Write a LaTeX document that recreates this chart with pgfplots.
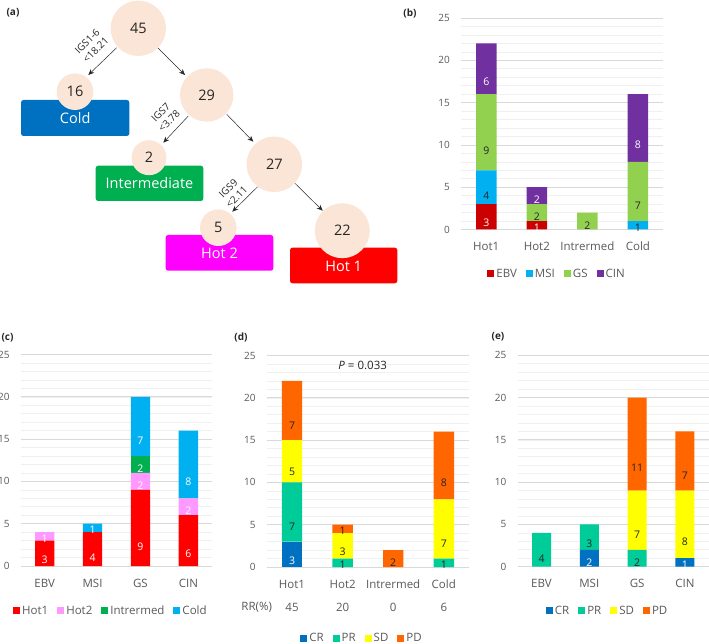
\documentclass[border=0pt]{standalone}
\usepackage{fontspec}
\setmainfont{Open Sans}
\usepackage{pgfplots}
\pgfplotsset{compat=1.18}
\usetikzlibrary{arrows.meta}

\definecolor{txt}{HTML}{595959}
\definecolor{dark}{HTML}{262626}
\definecolor{peach}{HTML}{FBE5D6}
\definecolor{coldbox}{HTML}{0070C0}
\definecolor{interbox}{HTML}{00B050}
\definecolor{hottwobox}{HTML}{FF00FF}
\definecolor{hotonebox}{HTML}{FF0000}
\definecolor{ebv}{HTML}{CC0000}
\definecolor{msi}{HTML}{00B0F0}
\definecolor{gs}{HTML}{92D050}
\definecolor{cin}{HTML}{7030A0}
\definecolor{hotone}{HTML}{FF0000}
\definecolor{hottwo}{HTML}{FF99FF}
\definecolor{inter}{HTML}{00B050}
\definecolor{cold}{HTML}{00B0F0}
\definecolor{cr}{HTML}{0070C0}
\definecolor{pr}{HTML}{00CC99}
\definecolor{sd}{HTML}{FFFF00}
\definecolor{pd}{HTML}{FF6600}

\tikzset{lbl/.style={font=\fontsize{11.5}{13}\selectfont, text=txt}}

\pgfplotsset{
  stackbar/.style={
    ybar stacked,
    clip=false,
    y=8.46pt,
    ymin=0, ymax=25,
    xmin=-0.5, xmax=3.5,
    ytick={0,5,...,25},
    minor ytick={1,...,24},
    xtick={0,1,2,3},
    ymajorgrids, yminorgrids,
    major grid style={draw=black!15, line width=0.7pt},
    minor grid style={draw=black!6, line width=0.6pt},
    axis line style={draw=none},
    tick style={draw=none},
    major tick length=0pt,
    minor tick length=0pt,
    /pgf/number format/assume math mode=true,
    ticklabel style={font=\fontsize{10}{12}\selectfont, text=txt},
    yticklabel style={anchor=east, inner sep=0pt, xshift=-11pt},
    xticklabel style={anchor=base, inner sep=0pt, yshift=-21pt,
      font=\fontsize{11.5}{13}\selectfont},
    visualization depends on={value \thisrow{v} \as \segval},
    nodes near coords={\ifdim\segval pt>0pt \segval\fi},
    every node near coord/.append style={anchor=center, text=dark,
      font=\fontsize{10.5}{12}\selectfont, inner sep=0pt,
      yshift={-0.25*\segval*8.46pt}},
    legend image code/.code={\fill[##1] (0pt,-3.5pt) rectangle (7pt,3.5pt);},
    legend style={anchor=center, draw=none, fill=none, legend columns=4,
      font=\fontsize{11.5}{13}\selectfont, text=txt,
      /tikz/every even column/.append style={column sep=7pt}},
  },
}

\begin{document}
\begin{tikzpicture}
\useasboundingbox (0pt,0pt) rectangle (709pt,643pt);

% (a) decision tree
\begin{scope}[x=1pt, y=-1pt, shift={(0pt,643pt)}]
  \draw[dark, line width=0.5pt, -{Stealth[length=6pt,width=5pt]}] (116.7,47.7) -- (88.3,75);
  \draw[dark, line width=0.5pt, -{Stealth[length=6pt,width=5pt]}] (156.7,46.7) -- (185,75);
  \draw[dark, line width=0.5pt, -{Stealth[length=6pt,width=5pt]}] (188.3,116) -- (163.3,142.7);
  \draw[dark, line width=0.5pt, -{Stealth[length=6pt,width=5pt]}] (226.7,114.3) -- (253.3,141.7);
  \draw[dark, line width=0.5pt, -{Stealth[length=6pt,width=5pt]}] (257.7,186.7) -- (232.3,211.7);
  \draw[dark, line width=0.5pt, -{Stealth[length=6pt,width=5pt]}] (294.3,182.7) -- (322.7,210.7);

  \fill[coldbox, rounded corners=2.5pt] (21,100) rectangle (129.3,136);
  \fill[interbox, rounded corners=2.5pt] (95.7,165.7) rectangle (203.3,201);
  \fill[hottwobox, rounded corners=2.5pt] (165.7,235) rectangle (273.3,270.7);
  \fill[hotonebox, rounded corners=2.5pt] (290,247.7) rectangle (397.3,283.3);

  \fill[peach] (138.3,28.3) circle (27.7pt);
  \fill[peach] (75,91.7) circle (18.3pt);
  \fill[peach] (206.7,95) circle (26.7pt);
  \fill[peach] (149,157.7) circle (17.5pt);
  \fill[peach] (274.3,164.3) circle (27.8pt);
  \fill[peach] (218.3,227.7) circle (18.3pt);
  \fill[peach] (342.3,230.7) circle (27.5pt);

  \begin{scope}[every node/.style={font=\fontsize{14.5}{16}\selectfont, text=dark}]
    \node at (138.3,28.3) {45};
    \node at (75,91.7) {16};
    \node at (206.7,95) {29};
    \node at (149,157.7) {2};
    \node at (274.3,164.3) {27};
    \node at (218.3,227.7) {5};
    \node at (342.3,230.7) {22};
  \end{scope}
  \begin{scope}[every node/.style={font=\fontsize{14.5}{16}\selectfont, text=white}]
    \node at (75.2,118.3) {Cold};
    \node at (149.5,183.3) {Intermediate};
    \node at (219.5,253) {Hot 2};
    \node at (343.7,266.5) {Hot 1};
  \end{scope}
  \begin{scope}[every node/.style={font=\fontsize{10}{12}\selectfont, text=dark,
      align=center, rotate=45, inner sep=0pt}]
    \node at (91.5,45.5) {IGS1-6\\<18.21};
    \node at (165,117) {IGS7\\<3.78};
    \node at (232.5,193) {IGS9\\<2.11};
  \end{scope}
\end{scope}

% panel letters
\begin{scope}[every node/.style={font=\bfseries\fontsize{10}{12}\selectfont, text=dark}]
  \node at (13pt,630pt) {(a)};
  \node at (410pt,630pt) {(b)};
  \node at (7.5pt,305.5pt) {(c)};
  \node at (241pt,306pt) {(d)};
  \node at (498pt,306pt) {(e)};
\end{scope}

% (b)
\begin{axis}[stackbar, x=50.55pt, bar width=20.5pt,
    at={(461pt,413.5pt)}, anchor=south west,
    xticklabels={Hot1,Hot2,Intrermed,Cold},
    legend style={at={(0.475,-0.21)}}]
  \addplot[fill=ebv, draw=none, every node near coord/.append style={text=white}]
    table[x=x, y=v] {x v
0 3
1 1
2 0
3 0
};
  \addplot[fill=msi, draw=none] table[x=x, y=v] {x v
0 4
1 0
2 0
3 1
};
  \addplot[fill=gs, draw=none] table[x=x, y=v] {x v
0 9
1 2
2 2
3 7
};
  \addplot[fill=cin, draw=none, every node near coord/.append style={text=white}]
    table[x=x, y=v] {x v
0 6
1 2
2 0
3 8
};
  \legend{EBV,MSI,GS,CIN}
\end{axis}

% (c)
\begin{axis}[stackbar, x=47.9pt, bar width=19.3pt,
    at={(20.7pt,77pt)}, anchor=south west,
    xticklabels={EBV,MSI,GS,CIN},
    every node near coord/.append style={text=white},
    legend style={at={(0.471,-0.212)}}]
  \addplot[fill=hotone, draw=none] table[x=x, y=v] {x v
0 3
1 4
2 9
3 6
};
  \addplot[fill=hottwo, draw=none] table[x=x, y=v] {x v
0 1
1 0
2 2
3 2
};
  \addplot[fill=inter, draw=none] table[x=x, y=v] {x v
0 0
1 0
2 2
3 0
};
  \addplot[fill=cold, draw=none] table[x=x, y=v] {x v
0 0
1 1
2 7
3 8
};
  \legend{Hot1,Hot2,Intrermed,Cold}
\end{axis}

% (d)
\begin{axis}[stackbar, x=50.6pt, bar width=20.4pt,
    at={(266.7pt,76pt)}, anchor=south west,
    xticklabels={Hot1,Hot2,Intrermed,Cold},
    legend style={at={(0.471,-0.336)}}]
  \addplot[fill=cr, draw=none, every node near coord/.append style={text=white}]
    table[x=x, y=v] {x v
0 3
1 0
2 0
3 0
};
  \addplot[fill=pr, draw=none] table[x=x, y=v] {x v
0 7
1 1
2 0
3 1
};
  \addplot[fill=sd, draw=none] table[x=x, y=v] {x v
0 5
1 3
2 0
3 7
};
  \addplot[fill=pd, draw=none] table[x=x, y=v] {x v
0 7
1 1
2 2
3 8
};
  \legend{CR,PR,SD,PD}
\end{axis}

% (e)
\begin{axis}[stackbar, x=47.8pt, bar width=19pt,
    at={(517.6pt,76.3pt)}, anchor=south west,
    xticklabels={EBV,MSI,GS,CIN},
    legend style={at={(0.471,-0.209)}}]
  \addplot[fill=cr, draw=none, every node near coord/.append style={text=white}]
    table[x=x, y=v] {x v
0 0
1 2
2 0
3 1
};
  \addplot[fill=pr, draw=none] table[x=x, y=v] {x v
0 4
1 3
2 2
3 0
};
  \addplot[fill=sd, draw=none] table[x=x, y=v] {x v
0 0
1 0
2 7
3 8
};
  \addplot[fill=pd, draw=none] table[x=x, y=v] {x v
0 0
1 0
2 11
3 7
};
  \legend{CR,PR,SD,PD}
\end{axis}

% (d) extra text: P value and response rates
\node[lbl, text=dark] at (362.7pt,277.3pt) {\textit{P} = 0.033};
\node[lbl] at (256.7pt,35.3pt) {RR(\%)};
\node[lbl] at (292pt,35.3pt) {45};
\node[lbl] at (342.6pt,35.3pt) {20};
\node[lbl] at (393.2pt,35.3pt) {0};
\node[lbl] at (443.8pt,35.3pt) {6};
\end{tikzpicture}
\end{document}
